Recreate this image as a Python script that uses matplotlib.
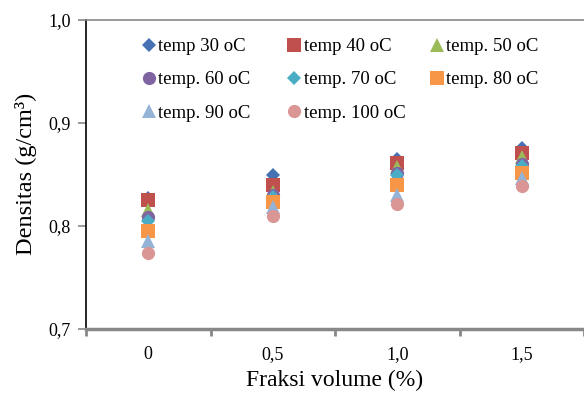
import numpy as np
import matplotlib.pyplot as plt

plt.rcParams['font.family'] = ['Liberation Serif', 'DejaVu Serif']

# data
fraksi = ['0', '0,5', '1,0', '1,5']
labels = ['temp 30 oC', 'temp 40 oC', 'temp. 50 oC', 'temp. 60 oC',
          'temp. 70 oC', 'temp. 80 oC', 'temp. 90 oC', 'temp. 100 oC']
t30 = [0.827, 0.849, 0.865, 0.875]
t40 = [0.825, 0.840, 0.861, 0.871]
t50 = [0.815, 0.833, 0.857, 0.867]
t60 = [0.809, 0.830, 0.851, 0.860]
t70 = [0.805, 0.828, 0.849, 0.858]
t80 = [0.795, 0.823, 0.840, 0.851]
t90 = [0.785, 0.818, 0.830, 0.846]
t100 = [0.774, 0.810, 0.821, 0.839]
series = [t30, t40, t50, t60, t70, t80, t90, t100]

colors = ['#4672B4', '#C0504D', '#9BBB59', '#8064A2',
          '#4BACC6', '#F79646', '#95B3D7', '#D99694']
markers = ['D', 's', '^', 'o', 'D', 's', '^', 'o']
sizes = [7.5, 9.5, 9.5, 9.5, 7.5, 9.5, 9.5, 9.5]

fig = plt.figure(figsize=(5.84, 3.94), dpi=100)
ax = fig.add_axes([86/584, 65/394, 498/584, 309.5/394])

x = np.arange(len(fraksi))
handles = []
for y, lab, c, m, ms in zip(series, labels, colors, markers, sizes):
    ln, = ax.plot(x, y, linestyle='none', marker=m, color=c, markersize=ms,
                  markeredgewidth=0, label=lab)
    handles.append(ln)

ax.set_xlim(-0.5, 3.42)
ax.set_ylim(0.7, 1.0)
ax.set_yticks([0.7, 0.8, 0.9, 1.0])
ax.set_yticklabels(['0,7', '0,8', '0,9', '1,0'], fontsize=13)
ax.set_xticks(x)
ax.set_xticklabels(fraksi, fontsize=13)
ax.set_xticks(np.arange(-0.5, 3.6, 1), minor=True)
ax.tick_params(axis='x', which='major', length=0, pad=12)
ax.tick_params(axis='x', which='minor', length=5, width=2, color='#888888', direction='out')
ax.tick_params(axis='y', length=6, width=1.2, color='#888888', pad=5)

ax.spines['right'].set_visible(False)
ax.spines['top'].set_color('#888888')
ax.spines['top'].set_linewidth(1.2)
ax.spines['bottom'].set_color('#888888')
ax.spines['bottom'].set_linewidth(2.5)
ax.spines['left'].set_color('black')
ax.spines['left'].set_linewidth(1.2)

ax.set_xlabel('Fraksi volume (%)', fontsize=17, labelpad=5)
ax.set_ylabel('Densitas (g/cm³)', fontsize=17.5, labelpad=8)

# legend as three equal columns, filled row by row (like Excel)
col_x = [0.111, 0.403, 0.690]
legs = []
for k, cx in enumerate(col_x):
    idx = list(range(k, len(labels), 3))
    leg = ax.legend([handles[i] for i in idx], [labels[i] for i in idx],
                    loc='upper left', bbox_to_anchor=(cx, 0.94), frameon=False,
                    fontsize=13.5, handlelength=0.8, handletextpad=0.1,
                    labelspacing=0.86, borderpad=0, borderaxespad=0)
    legs.append(leg)
for leg in legs[:-1]:
    ax.add_artist(leg)

fig.savefig('out.png', dpi=100)
